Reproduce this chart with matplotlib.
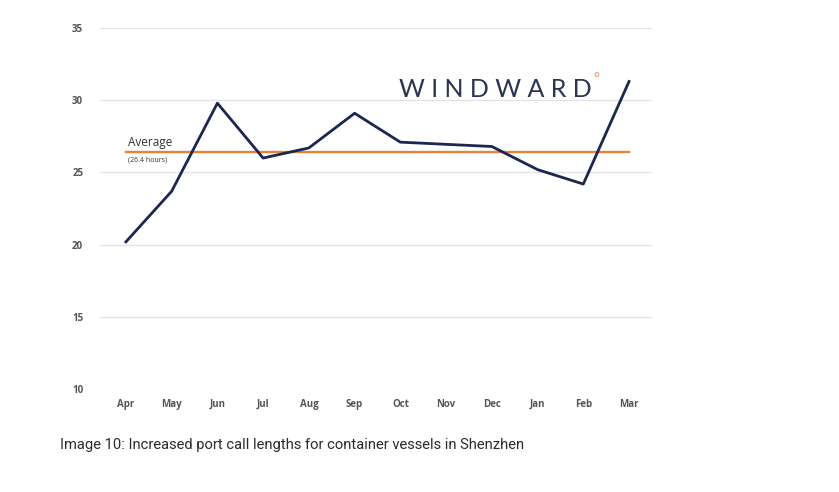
import matplotlib.pyplot as plt

# ── data ─────────────────────────────────────────────────────────────────────
months = ["Apr", "May", "Jun", "Jul", "Aug", "Sep", "Oct", "Nov", "Dec", "Jan", "Feb", "Mar"]
hours = [20.2, 23.7, 29.8, 26.0, 26.7, 29.1, 27.1, 26.95, 26.8, 25.2, 24.2, 31.3]
average = 26.4
y_ticks = [10, 15, 20, 25, 30, 35]

# ── plot ─────────────────────────────────────────────────────────────────────
fig = plt.figure(figsize=(8.39, 4.92), dpi=100)
ax = fig.add_axes([0.119, 0.209, 0.658, 0.734])

x = list(range(len(months)))
ax.plot(x, hours, color="#1b2750", linewidth=2.0, zorder=3)
ax.plot([x[0], x[-1]], [average, average], color="#e8823a", linewidth=1.7, zorder=2)

ax.text(0.05, average + 0.25, "Average", fontsize=8.5, color="#333333",
        family="Open Sans", va="bottom", ha="left")
ax.text(0.05, average - 0.3, "(26.4 hours)", fontsize=5, color="#333333",
        family="Open Sans", va="top", ha="left")

ax.set_xlim(-0.57, 11.5)
ax.set_ylim(10, 35)
ax.set_yticks(y_ticks)
ax.set_xticks(x)
ax.set_xticklabels(months)
ax.tick_params(axis="both", length=0, labelsize=7, labelcolor="#555555")
ax.tick_params(axis="x", pad=7)
ax.tick_params(axis="y", pad=12)
for lab in ax.get_xticklabels() + ax.get_yticklabels():
    lab.set_family("Open Sans")
    lab.set_fontweight("bold")
ax.grid(axis="y", color="#e3e3e3", linewidth=0.9)
ax.set_axisbelow(True)
for s in ax.spines.values():
    s.set_visible(False)

# logo
fig.text(0.476, 0.818, "W I N D W A R D", fontsize=18, color="#2a3350",
         family="Lato", va="center", ha="left")
fig.text(0.706, 0.838, "°", fontsize=11, color="#e8a070", va="center", ha="left")

# caption
fig.text(0.071, 0.095, "Image 10: Increased port call lengths for container vessels in Shenzhen",
         fontsize=10.6, color="#2a2a2a", family="Roboto", va="center", ha="left")

fig.savefig("out.png", dpi=100)
